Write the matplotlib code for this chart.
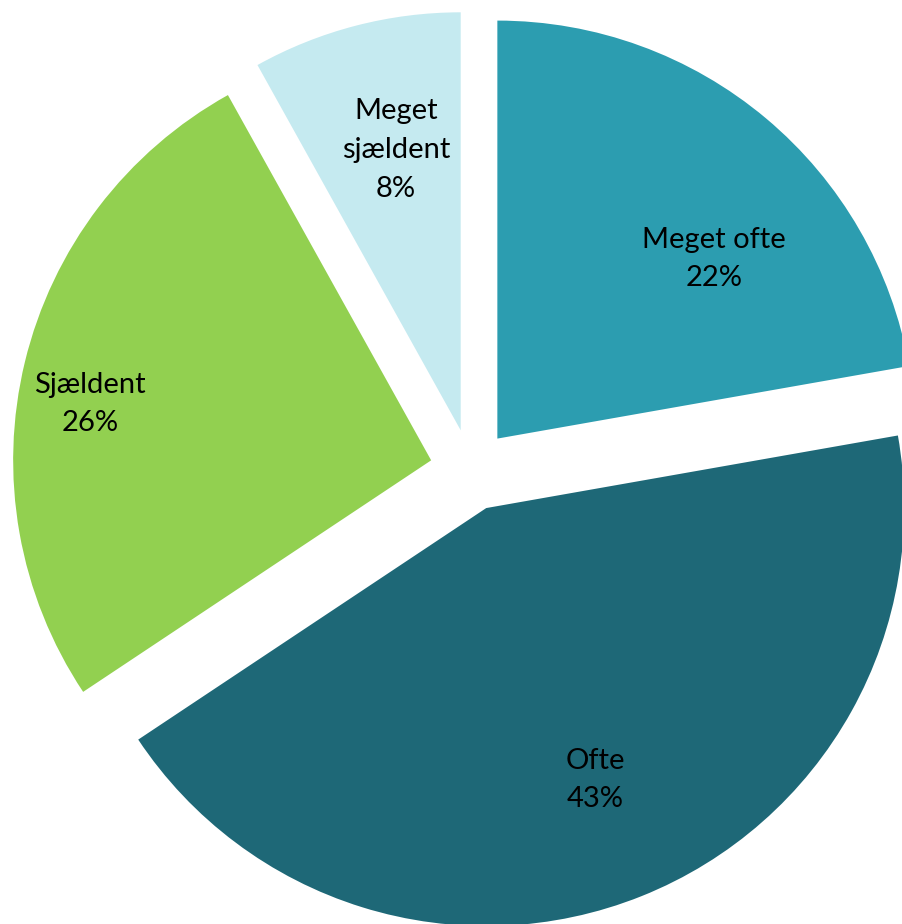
import matplotlib
matplotlib.use("Agg")
import matplotlib.pyplot as plt
import numpy as np

# answer categories, clockwise from 12 o'clock
categories = ["Meget ofte", "Ofte", "Sjældent", "Meget\nsjældent"]
shares = [22, 43, 26, 8]
colors = ["#2C9DB0", "#1E6877", "#92D050", "#C5EAF0"]

# label anchors in pixel space (figure coords are 1:1 with pixels)
label_pos = [(714, 259), (595, 780), (90, 404), (396, 150)]

W, H = 902, 924
fig = plt.figure(figsize=(W / 100, H / 100), dpi=100)
ax = fig.add_axes([0, 0, 1, 1])

radius = 418
# pie() applies explode in data units, so the gap is given in pixels here
wedges, _ = ax.pie(shares, colors=colors, startangle=90, counterclock=False,
                   radius=radius, center=(471, H - 470),
                   explode=[41] * len(shares),
                   wedgeprops=dict(linewidth=0))

for name, val, (x, y) in zip(categories, shares, label_pos):
    ax.text(x, H - y, f"{name}\n{val}%", ha="center", va="center",
            fontsize=21, family=["Lato", "DejaVu Sans"], color="black",
            linespacing=1.6)

ax.set_xlim(0, W)
ax.set_ylim(0, H)
ax.set_aspect("equal")
ax.axis("off")

plt.savefig("out.png", dpi=100)
